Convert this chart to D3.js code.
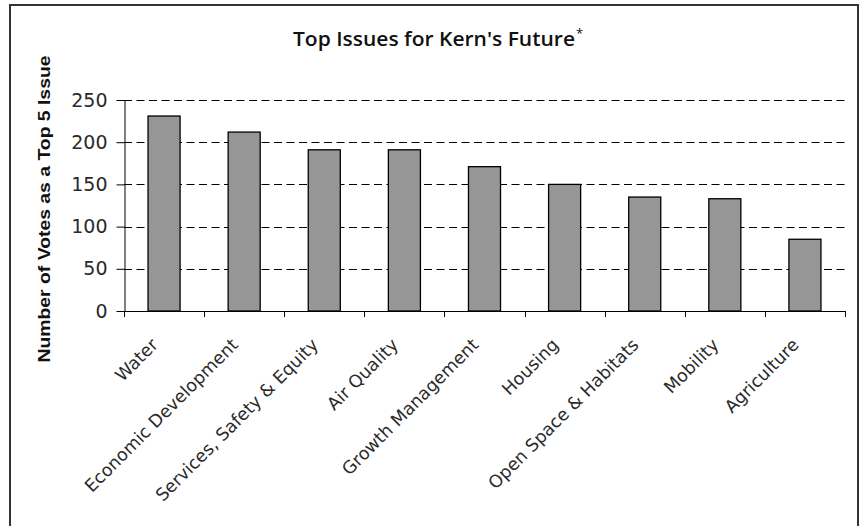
<!DOCTYPE html>
<html>
<head>
<meta charset="utf-8">
<script src="https://cdn.jsdelivr.net/npm/d3@7/dist/d3.min.js"></script>
<style>
  html, body { margin: 0; padding: 0; background: #fff; }
  svg { display: block; }
</style>
</head>
<body>
<svg id="chart" width="864" height="526"></svg>
<script>
// Issues ranked by number of votes received as a top-5 priority
const categories = [
  "Water", "Economic Development", "Services, Safety & Equity", "Air Quality",
  "Growth Management", "Housing", "Open Space & Habitats", "Mobility", "Agriculture"
];
const votes = [231, 212, 191, 191, 171, 150, 135, 133, 85];
const yTicks = [0, 50, 100, 150, 200, 250];

const svg = d3.select("#chart");
const plot = { left: 124, right: 845, top: 100, bottom: 311 };

// outer frame
svg.append("rect")
  .attr("x", 10).attr("y", 5)
  .attr("width", 848).attr("height", 530)
  .attr("fill", "#fff").attr("stroke", "#333").attr("stroke-width", 2);

const x = d3.scaleBand().domain(categories).range([plot.left, plot.right]).padding(0);
const y = d3.scaleLinear().domain([0, 250]).range([plot.bottom, plot.top]);

const numFont = "'Century Gothic', 'DejaVu Sans', sans-serif";

// dashed gridlines
svg.append("g").selectAll("line")
  .data(yTicks.filter(t => t > 0))
  .join("line")
  .attr("x1", plot.left).attr("x2", plot.right)
  .attr("y1", d => Math.round(y(d)) + 0.5).attr("y2", d => Math.round(y(d)) + 0.5)
  .attr("stroke", "#000").attr("stroke-width", 1)
  .attr("stroke-dasharray", "8,4.5");

// bars
const barW = x.bandwidth() * 0.4;
svg.append("g").selectAll("rect")
  .data(categories)
  .join("rect")
  .attr("x", d => x(d) + (x.bandwidth() - barW) / 2)
  .attr("y", (d, i) => y(votes[i]))
  .attr("width", barW)
  .attr("height", (d, i) => y(0) - y(votes[i]))
  .attr("fill", "#969696")
  .attr("stroke", "#000").attr("stroke-width", 1.3);

// y axis
const yAxis = svg.append("g")
  .attr("transform", `translate(${plot.left + 0.5},0)`)
  .call(d3.axisLeft(y).tickValues(yTicks).tickSize(8).tickSizeOuter(0).tickPadding(9));
yAxis.select(".domain").attr("stroke", "#000");
yAxis.selectAll(".tick line").attr("stroke", "#000");
yAxis.selectAll(".tick text")
  .attr("font-family", numFont).attr("font-size", 19).attr("fill", "#2a2a2a");

// x axis: ticks on the category boundaries
const boundaries = d3.range(categories.length + 1).map(i => plot.left + i * x.step());
const xg = svg.append("g");
xg.append("line")
  .attr("x1", plot.left).attr("x2", plot.right)
  .attr("y1", plot.bottom + 0.5).attr("y2", plot.bottom + 0.5)
  .attr("stroke", "#000");
xg.selectAll("line.tk")
  .data(boundaries)
  .join("line")
  .attr("class", "tk")
  .attr("x1", d => Math.round(d) + 0.5).attr("x2", d => Math.round(d) + 0.5)
  .attr("y1", plot.bottom).attr("y2", plot.bottom + 6)
  .attr("stroke", "#000");

// rotated category labels
xg.selectAll("text")
  .data(categories)
  .join("text")
  .attr("transform", d => `translate(${x(d) + x.bandwidth() / 2 - 5},346) rotate(-45)`)
  .attr("text-anchor", "end")
  .attr("font-family", numFont)
  .attr("font-size", 17.5)
  .attr("fill", "#2a2a2a")
  .text(d => d);

// y axis title
svg.append("text")
  .attr("transform", "translate(50,209) rotate(-90)")
  .attr("text-anchor", "middle")
  .attr("font-family", "'Liberation Sans', Arial, sans-serif")
  .attr("font-weight", "bold")
  .attr("font-size", 16.5)
  .attr("textLength", 307).attr("lengthAdjust", "spacingAndGlyphs")
  .attr("fill", "#111")
  .text("Number of Votes as a Top 5 Issue");

// chart title with superscript asterisk
const title = svg.append("text")
  .attr("x", 293).attr("y", 46)
  .attr("font-family", "'Open Sans', 'Liberation Sans', sans-serif")
  .attr("font-weight", 600)
  .attr("font-size", 19)
  .attr("fill", "#111");
title.append("tspan")
  .attr("textLength", 282).attr("lengthAdjust", "spacingAndGlyphs")
  .text("Top Issues for Kern's Future");
title.append("tspan")
  .attr("dx", 1).attr("dy", -8).attr("font-size", 13).attr("font-weight", 400)
  .text("*");
</script>
</body>
</html>
